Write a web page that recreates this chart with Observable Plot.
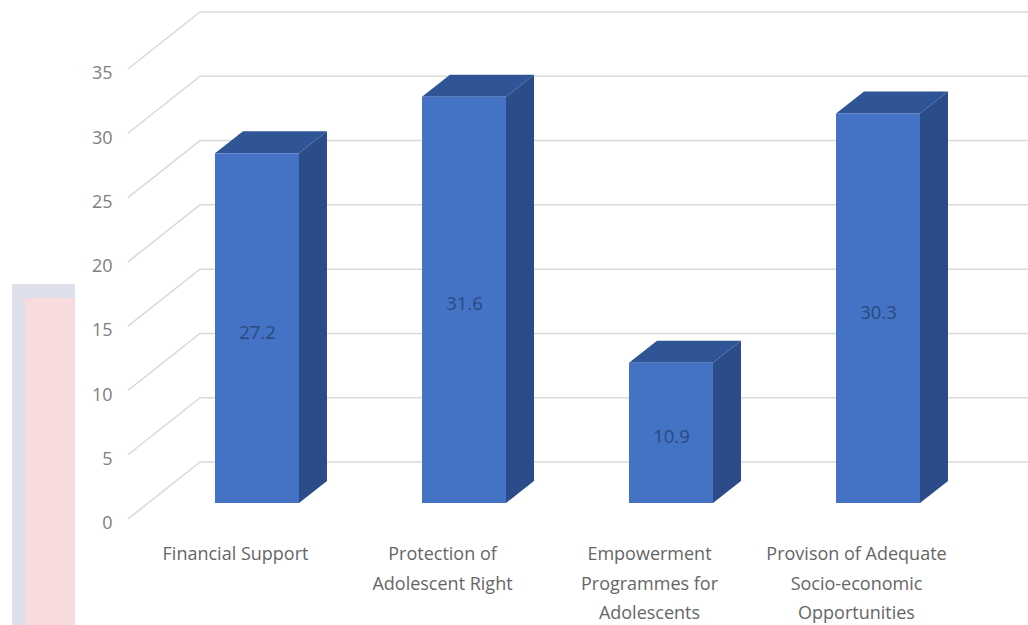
<!DOCTYPE html>
<html>
<head>
<meta charset="utf-8">
<script src="https://cdn.jsdelivr.net/npm/d3@7"></script>
<script src="https://cdn.jsdelivr.net/npm/@observablehq/plot@0.6"></script>
<style>
  html, body { margin: 0; padding: 0; background: #fff; }
  #wrap { position: relative; width: 1028px; height: 625px; overflow: hidden; }
  #deco1 { position: absolute; left: 12px; top: 284px; width: 63px; height: 341px; background: #dde0ea; }
  #deco2 { position: absolute; left: 25px; top: 298px; width: 50px; height: 327px; background: #f8dcdd; }
</style>
</head>
<body>
<div id="wrap"><div id="chart"></div><div id="deco1"></div><div id="deco2"></div></div>
<script>
const categories = [
  "Financial Support",
  "Protection of\nAdolescent Right",
  "Empowerment\nProgrammes for\nAdolescents",
  "Provison of Adequate\nSocio-economic\nOpportunities"
];
const values = [27.2, 31.6, 10.9, 30.3];
const yTicks = [0, 5, 10, 15, 20, 25, 30, 35];

const data = categories.map((c, i) => ({category: c, value: values[i]}));

// 3D styling constants (pixels)
const depthX = 28, depthY = -22;      // bar depth
const wallDX = 72, wallDY = -57;      // floor/left-wall depth
const colFront = "#4472C4", colTop = "#2F5597", colSide = "#2B4C88";

function gridMark(index, scales, values, dim) {
  const {y} = scales;
  const left = dim.marginLeft + 16;
  const g = d3.create("svg:g")
    .attr("fill", "none").attr("stroke", "#d9d9d9").attr("stroke-width", 1.5);
  g.selectAll("path").data(yTicks).join("path")
    .attr("d", v => `M${left},${y(v) + 16}L${left + wallDX},${y(v) + 16 + wallDY}H${dim.width}`);
  return g.node();
}

function bar3dMark(index, scales) {
  const {x, y} = scales;
  const bw = x.bandwidth();
  const g = d3.create("svg:g");
  for (const d of data) {
    const x0 = x(d.category), x1 = x0 + bw;
    const yt = y(d.value), yb = y(0);
    g.append("path").attr("fill", colSide)
      .attr("d", `M${x1},${yt}L${x1 + depthX},${yt + depthY}L${x1 + depthX},${yb + depthY}L${x1},${yb}Z`);
    g.append("path").attr("fill", colTop)
      .attr("d", `M${x0},${yt}L${x0 + depthX},${yt + depthY}L${x1 + depthX},${yt + depthY}L${x1},${yt}Z`);
  }
  return g.node();
}

const chart = Plot.plot({
  width: 1028,
  height: 625,
  marginLeft: 112,
  marginRight: 0,
  marginTop: 53,
  marginBottom: 122,
  style: {background: "white", fontFamily: "'Open Sans', sans-serif"},
  x: {type: "band", domain: categories, range: [213, 921], paddingInner: 0.596, paddingOuter: 0, align: 0.5, axis: null},
  y: {domain: [0, 35], range: [503, 53], axis: null},
  marks: [
    gridMark,
    bar3dMark,
    Plot.barY(data, {x: "category", y: "value", fill: colFront}),
    Plot.text(data, {x: "category", y: d => d.value / 2, text: d => d.value.toFixed(1), fill: "#2a4a7e", fontSize: 18.5, dy: 4}),
    Plot.text(yTicks, {y: d => d, text: d => String(d), frameAnchor: "left", textAnchor: "end", dy: 20, fill: "#7f7f7f", fontSize: 18}),
    Plot.text(categories, {x: d => d, y: d => 0, text: d => d, dx: -22, dy: 36, lineAnchor: "top", lineHeight: 1.64, fill: "#666666", fontSize: 18})
  ]
});
document.getElementById("chart").appendChild(chart);
</script>
</body>
</html>
